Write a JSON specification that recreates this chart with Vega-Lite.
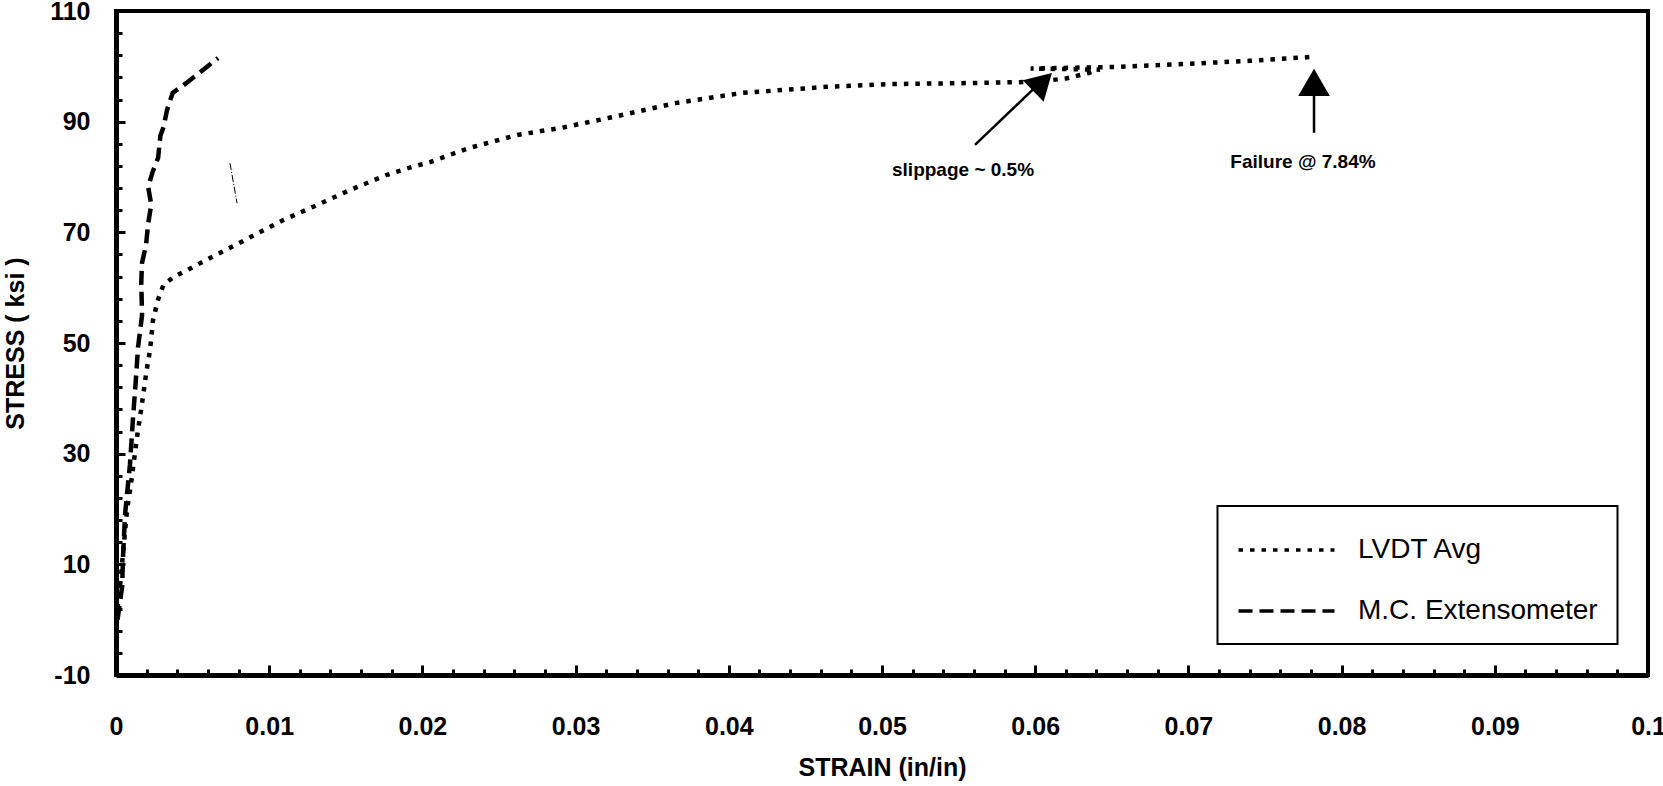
{
  "$schema": "https://vega.github.io/schema/vega-lite/v6.json",
  "width": 1532,
  "height": 664,
  "autosize": {"type": "none"},
  "padding": {"left": 116, "top": 11, "right": 15, "bottom": 111},
  "background": "white",
  "config": {
    "font": "Liberation Sans",
    "view": {"stroke": "black", "strokeWidth": 4},
    "axis": {"labelOverlap": false, "labelSeparation": 0},
    "legend": {"strokeColor": "black", "strokeWidth": 2}
  },
  "datasets": {
    "curves": [
      {"series": "LVDT Avg", "i": 0, "strain": 0, "stress": 0},
      {"series": "LVDT Avg", "i": 1, "strain": 0.00026, "stress": 5.9},
      {"series": "LVDT Avg", "i": 2, "strain": 0.00046, "stress": 12.0},
      {"series": "LVDT Avg", "i": 3, "strain": 0.00072, "stress": 19.8},
      {"series": "LVDT Avg", "i": 4, "strain": 0.00104, "stress": 25.8},
      {"series": "LVDT Avg", "i": 5, "strain": 0.00137, "stress": 33.0},
      {"series": "LVDT Avg", "i": 6, "strain": 0.0017, "stress": 39.1},
      {"series": "LVDT Avg", "i": 7, "strain": 0.002, "stress": 45.1},
      {"series": "LVDT Avg", "i": 8, "strain": 0.00222, "stress": 48.7},
      {"series": "LVDT Avg", "i": 9, "strain": 0.00242, "stress": 54.2},
      {"series": "LVDT Avg", "i": 10, "strain": 0.00274, "stress": 57.8},
      {"series": "LVDT Avg", "i": 11, "strain": 0.0031, "stress": 60.5},
      {"series": "LVDT Avg", "i": 12, "strain": 0.0038, "stress": 62.0},
      {"series": "LVDT Avg", "i": 13, "strain": 0.005, "stress": 63.7},
      {"series": "LVDT Avg", "i": 14, "strain": 0.0063, "stress": 65.6},
      {"series": "LVDT Avg", "i": 15, "strain": 0.008, "stress": 68.0},
      {"series": "LVDT Avg", "i": 16, "strain": 0.0095, "stress": 70.2},
      {"series": "LVDT Avg", "i": 17, "strain": 0.0109, "stress": 72.2},
      {"series": "LVDT Avg", "i": 18, "strain": 0.0131, "stress": 74.9},
      {"series": "LVDT Avg", "i": 19, "strain": 0.0154, "stress": 77.8},
      {"series": "LVDT Avg", "i": 20, "strain": 0.0177, "stress": 80.4},
      {"series": "LVDT Avg", "i": 21, "strain": 0.0193, "stress": 81.8},
      {"series": "LVDT Avg", "i": 22, "strain": 0.0205, "stress": 82.7},
      {"series": "LVDT Avg", "i": 23, "strain": 0.023, "stress": 85.2},
      {"series": "LVDT Avg", "i": 24, "strain": 0.0262, "stress": 87.6},
      {"series": "LVDT Avg", "i": 25, "strain": 0.0291, "stress": 88.9},
      {"series": "LVDT Avg", "i": 26, "strain": 0.0322, "stress": 90.7},
      {"series": "LVDT Avg", "i": 27, "strain": 0.0366, "stress": 93.4},
      {"series": "LVDT Avg", "i": 28, "strain": 0.0409, "stress": 95.2},
      {"series": "LVDT Avg", "i": 29, "strain": 0.0464, "stress": 96.3},
      {"series": "LVDT Avg", "i": 30, "strain": 0.0507, "stress": 96.8},
      {"series": "LVDT Avg", "i": 31, "strain": 0.0562, "stress": 97.0},
      {"series": "LVDT Avg", "i": 32, "strain": 0.06, "stress": 97.2},
      {"series": "LVDT Avg", "i": 33, "strain": 0.062, "stress": 97.8},
      {"series": "LVDT Avg", "i": 34, "strain": 0.0635, "stress": 98.8},
      {"series": "LVDT Avg", "i": 35, "strain": 0.0642, "stress": 99.4},
      {"series": "LVDT Avg", "i": 36, "strain": 0.0597, "stress": 99.6},
      {"series": "LVDT Avg", "i": 37, "strain": 0.0653, "stress": 99.9},
      {"series": "LVDT Avg", "i": 38, "strain": 0.0696, "stress": 100.4},
      {"series": "LVDT Avg", "i": 39, "strain": 0.074, "stress": 101.0},
      {"series": "LVDT Avg", "i": 40, "strain": 0.0781, "stress": 101.7},
      {"series": "M.C. Extensometer", "i": 0, "strain": 0.0001, "stress": 0},
      {"series": "M.C. Extensometer", "i": 1, "strain": 0.0004, "stress": 6},
      {"series": "M.C. Extensometer", "i": 2, "strain": 0.00046, "stress": 11.5},
      {"series": "M.C. Extensometer", "i": 3, "strain": 0.00059, "stress": 19},
      {"series": "M.C. Extensometer", "i": 4, "strain": 0.00091, "stress": 28},
      {"series": "M.C. Extensometer", "i": 5, "strain": 0.0011, "stress": 36},
      {"series": "M.C. Extensometer", "i": 6, "strain": 0.0013, "stress": 43.5},
      {"series": "M.C. Extensometer", "i": 7, "strain": 0.00144, "stress": 49.3},
      {"series": "M.C. Extensometer", "i": 8, "strain": 0.0017, "stress": 55},
      {"series": "M.C. Extensometer", "i": 9, "strain": 0.00165, "stress": 61},
      {"series": "M.C. Extensometer", "i": 10, "strain": 0.0017, "stress": 64.5},
      {"series": "M.C. Extensometer", "i": 11, "strain": 0.00196, "stress": 67.7},
      {"series": "M.C. Extensometer", "i": 12, "strain": 0.0021, "stress": 71.6},
      {"series": "M.C. Extensometer", "i": 13, "strain": 0.0023, "stress": 75},
      {"series": "M.C. Extensometer", "i": 14, "strain": 0.0021, "stress": 78.2},
      {"series": "M.C. Extensometer", "i": 15, "strain": 0.0024, "stress": 81.0},
      {"series": "M.C. Extensometer", "i": 16, "strain": 0.00275, "stress": 83.5},
      {"series": "M.C. Extensometer", "i": 17, "strain": 0.0029, "stress": 87.5},
      {"series": "M.C. Extensometer", "i": 18, "strain": 0.0031, "stress": 89.0},
      {"series": "M.C. Extensometer", "i": 19, "strain": 0.00333, "stress": 92.1},
      {"series": "M.C. Extensometer", "i": 20, "strain": 0.0037, "stress": 95.2},
      {"series": "M.C. Extensometer", "i": 21, "strain": 0.0046, "stress": 97.0},
      {"series": "M.C. Extensometer", "i": 22, "strain": 0.00666, "stress": 101.5}
    ],
    "stray": [
      {"strain": 0.00744, "stress": 82.5},
      {"strain": 0.0079, "stress": 75.3}
    ],
    "arrows": [
      {"note": "slippage", "x": 0.05607, "y": 85.8, "x2": 0.0603, "y2": 97.0, "hx": 0.06048, "hy": 97.17},
      {"note": "failure", "x": 0.0782, "y": 88.0, "x2": 0.0782, "y2": 96.5, "hx": 0.0782, "hy": 97.1}
    ],
    "notes": [
      {"label": "slippage ~ 0.5%", "x": 0.05529, "y": 81.3},
      {"label": "Failure @ 7.84%", "x": 0.07748, "y": 82.7}
    ]
  },
  "layer": [
    {
      "data": {"name": "curves"},
      "mark": {"type": "line", "color": "black", "strokeWidth": 4.5, "strokeCap": "butt", "clip": true},
      "encoding": {
        "x": {
          "field": "strain", "type": "quantitative",
          "scale": {"domain": [0, 0.1], "nice": false, "zero": false},
          "axis": {
            "title": "STRAIN (in/in)",
            "titleFont": "Liberation Sans", "titleFontSize": 25, "titleFontWeight": "bold", "titleColor": "black",
            "titlePadding": 12,
            "tickCount": 200,
            "values": [0,0.002,0.004,0.006,0.008,0.01,0.012,0.014,0.016,0.018,0.02,0.022,0.024,0.026,0.028,0.03,0.032,0.034,0.036,0.038,0.04,0.042,0.044,0.046,0.048,0.05,0.052,0.054,0.056,0.058,0.06,0.062,0.064,0.066,0.068,0.07,0.072,0.074,0.076,0.078,0.08,0.082,0.084,0.086,0.088,0.09,0.092,0.094,0.096,0.098,0.1],
            "labelExpr": "abs(datum.value*100 - round(datum.value*100)) < 1e-6 ? format(datum.value, '.2~g') : ''",
            "labelFont": "Liberation Sans", "labelFontSize": 25, "labelFontWeight": "bold", "labelColor": "black",
            "labelOverlap": false, "labelFlush": false, "labelPadding": 49,
            "tickColor": "black", "tickWidth": 3,
            "tickSize": {"condition": {"test": "abs(datum.value*100 - round(datum.value*100)) < 1e-6", "value": -10}, "value": -6},
            "domainColor": "black", "domainWidth": 5, "grid": false
          }
        },
        "y": {
          "field": "stress", "type": "quantitative",
          "scale": {"domain": [-10, 110], "nice": false, "zero": false},
          "axis": {
            "title": "STRESS ( ksi )",
            "titleFont": "Liberation Sans", "titleFontSize": 25, "titleFontWeight": "bold", "titleColor": "black",
            "titlePadding": 21,
            "tickCount": 200,
            "values": [-10,-6,-2,2,6,10,14,18,22,26,30,34,38,42,46,50,54,58,62,66,70,74,78,82,86,90,94,98,102,106,110],
            "labelExpr": "(datum.value + 10) % 20 == 0 ? datum.value : ''",
            "labelFont": "Liberation Sans", "labelFontSize": 25, "labelFontWeight": "bold", "labelColor": "black",
            "labelOverlap": false, "labelFlush": false, "labelPadding": 35,
            "tickColor": "black", "tickWidth": 3,
            "tickSize": {"condition": {"test": "(datum.value + 10) % 20 == 0", "value": -9}, "value": -6},
            "domainColor": "black", "domainWidth": 5, "grid": false
          }
        },
        "order": {"field": "i", "type": "quantitative"},
        "strokeDash": {
          "field": "series", "type": "nominal",
          "scale": {"domain": ["LVDT Avg", "M.C. Extensometer"], "range": [[4.5, 7], [14, 7]]},
          "legend": {
            "title": null, "orient": "none", "legendX": 1101.5, "legendY": 495,
            "padding": 19, "fillColor": "white",
            "symbolType": "M-1,0H3.174", "symbolSize": 2116, "symbolStrokeWidth": 3.5,
            "symbolStrokeColor": "black", "symbolFillColor": "transparent",
            "labelFont": "Liberation Sans", "labelFontSize": 28, "labelColor": "black",
            "labelOffset": 71.5, "rowPadding": 22, "labelLimit": 500
          }
        }
      }
    },
    {
      "data": {"name": "stray"},
      "mark": {"type": "line", "color": "black", "strokeWidth": 1, "strokeDash": [7, 2, 1, 2]},
      "encoding": {
        "x": {"field": "strain", "type": "quantitative"},
        "y": {"field": "stress", "type": "quantitative"}
      }
    },
    {
      "data": {"name": "arrows"},
      "mark": {"type": "rule", "color": "black", "strokeWidth": 2.5},
      "encoding": {
        "x": {"field": "x", "type": "quantitative"},
        "y": {"field": "y", "type": "quantitative"},
        "x2": {"field": "x2"},
        "y2": {"field": "y2"}
      }
    },
    {
      "data": {"name": "arrows"},
      "transform": [{"filter": "datum.note == 'slippage'"}],
      "mark": {"type": "point", "shape": "triangle-up", "filled": true, "color": "black", "opacity": 1, "size": 900, "angle": 46},
      "encoding": {
        "x": {"field": "hx", "type": "quantitative"},
        "y": {"field": "hy", "type": "quantitative"}
      }
    },
    {
      "data": {"name": "arrows"},
      "transform": [{"filter": "datum.note == 'failure'"}],
      "mark": {"type": "point", "shape": "triangle-up", "filled": true, "color": "black", "opacity": 1, "size": 1000, "angle": 0},
      "encoding": {
        "x": {"field": "hx", "type": "quantitative"},
        "y": {"field": "hy", "type": "quantitative"}
      }
    },
    {
      "data": {"name": "notes"},
      "mark": {"type": "text", "font": "Liberation Sans", "fontSize": 19, "fontWeight": "bold", "color": "black", "align": "center", "baseline": "middle"},
      "encoding": {
        "x": {"field": "x", "type": "quantitative"},
        "y": {"field": "y", "type": "quantitative"},
        "text": {"field": "label", "type": "nominal"}
      }
    }
  ]
}
